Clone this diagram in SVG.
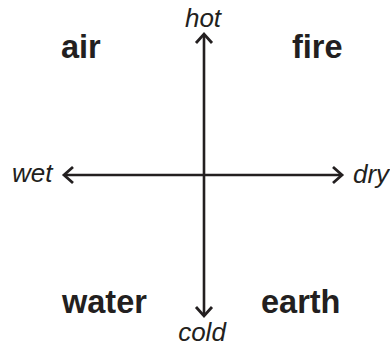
<svg xmlns="http://www.w3.org/2000/svg" width="390" height="347" viewBox="0 0 390 347">
<style>
.el{font-family:"Liberation Sans",Arial,sans-serif;font-weight:bold;font-size:32.5px;fill:#231f20}
.ax{font-family:"Liberation Sans",Arial,sans-serif;font-style:italic;font-size:26px;fill:#231f20}
.ln{stroke:#231f20;stroke-width:2.6;fill:none}
.hd{stroke:#231f20;stroke-width:2.8;fill:none;stroke-linecap:butt;stroke-linejoin:miter}
</style>
<rect width="390" height="347" fill="#fff"/>
<g id="connectors">
<line class="ln" x1="204" y1="35" x2="204" y2="315"/>
<polyline class="hd" points="196,43 204,34 212,43"/>
<polyline class="hd" points="196,307 204,316 212,307"/>
<line class="ln" x1="65" y1="175" x2="341" y2="175"/>
<polyline class="hd" points="73,167 64,175 73,183"/>
<polyline class="hd" points="333,167 342,175 333,183"/>
</g>
<g id="hot"><text class="ax" x="203" y="27" text-anchor="middle">hot</text></g>
<g id="cold"><text class="ax" x="202" y="341" text-anchor="middle">cold</text></g>
<g id="wet"><text class="ax" x="12" y="182">wet</text></g>
<g id="dry"><text class="ax" x="353" y="183">dry</text></g>
<g id="air"><text class="el" x="61" y="58">air</text></g>
<g id="fire"><text class="el" x="292" y="58">fire</text></g>
<g id="water"><text class="el" x="62" y="313">water</text></g>
<g id="earth"><text class="el" x="261" y="313">earth</text></g>
</svg>
